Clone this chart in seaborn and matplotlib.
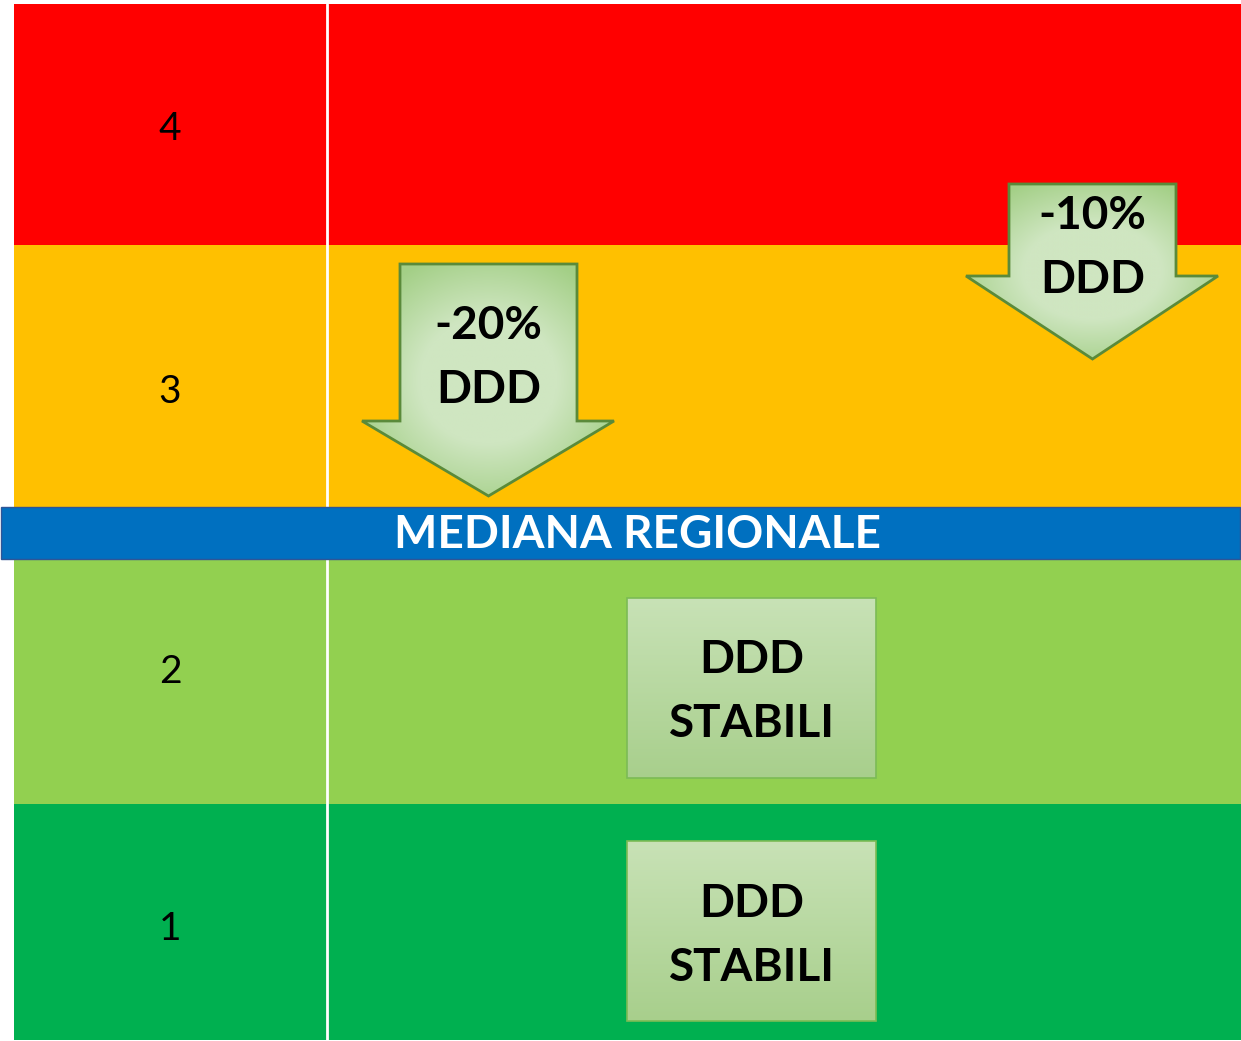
import numpy as np
import matplotlib
matplotlib.use("Agg")
import matplotlib.pyplot as plt
from matplotlib.patches import Polygon, Rectangle
from matplotlib.colors import to_rgb
import seaborn as sns

# ---- data ----
row_labels = ["4", "3", "2", "1"]
row_top = [4, 245, 559, 804]
row_bottom = [245, 507, 804, 1040]
row_colors = ["#ff0000", "#ffc000", "#92d050", "#00b050"]

band_text = "MEDIANA REGIONALE"
band_top, band_bottom = 507, 559

arrow_texts = ["-20%\nDDD", "-10%\nDDD"]
# shaft left, shaft right, top, shoulder y, head left, head right, tip y
arrow_geo = [
    (400, 577, 264, 421, 362, 614, 496),
    (1009, 1176, 184, 276, 966, 1218, 359),
]
arrow_text_y = [358, 248]
box_texts = ["DDD\nSTABILI", "DDD\nSTABILI"]
box_geo = [(627, 876, 598, 778), (627, 876, 841, 1021)]
box_text_y = [692, 936]

sns.set_theme(style="white")
plt.rcParams['font.family'] = ['Lato', 'DejaVu Sans']

W, H = 1241, 1041
fig = plt.figure(figsize=(W / 100, H / 100), dpi=100)
ax = fig.add_axes([0, 0, 1, 1])
ax.set_xlim(0, W)
ax.set_ylim(H, 0)
ax.axis('off')

# rows
heights = [b - t for t, b in zip(row_top, row_bottom)]
centers = [(t + b) / 2 for t, b in zip(row_top, row_bottom)]
ax.barh(centers, W - 14, left=14, height=heights, color=row_colors,
        edgecolor='none', zorder=1)
# column divider
ax.plot([327, 327], [row_top[0], row_bottom[-1]], color='white', lw=2, zorder=2)
# row labels
label_y = [129, 392, 672, 929]
for lab, y in zip(row_labels, label_y):
    ax.text(170, y, lab, ha='center', va='center', fontsize=28, color='black', zorder=3)

# blue band
ax.add_patch(Rectangle((1, band_top), W - 2, band_bottom - band_top,
                       facecolor='#0070c0', edgecolor='#2f5597', lw=1, zorder=4))
ax.text(638, (band_top + band_bottom) / 2 + 2, band_text, ha='center', va='center',
        fontsize=33, fontweight='bold', color='white', zorder=5)

light = np.array(to_rgb('#cfe6c1'))
dark = np.array(to_rgb('#a3cf86'))

# arrows with radial gradient
for (sl, sr, top, sh, hl, hr, tip), txt, ty in zip(arrow_geo, arrow_texts, arrow_text_y):
    cx = (sl + sr) / 2
    verts = [(sl, top), (sr, top), (sr, sh), (hr, sh), (cx, tip), (hl, sh), (sl, sh)]
    poly = Polygon(verts, closed=True, facecolor='none', edgecolor='#5a8a3a', lw=2, zorder=7)
    ax.add_patch(poly)
    xs = np.linspace(hl, hr, 200)
    ys = np.linspace(top, tip, 200)
    X, Y = np.meshgrid(xs, ys)
    cy = (top + tip) / 2
    r = np.sqrt(((X - cx) / ((hr - hl) / 2)) ** 2 + ((Y - cy) / ((tip - top) / 2)) ** 2)
    t = np.clip((r - 0.55) / 0.6, 0, 1)[..., None]
    img = light * (1 - t) + dark * t
    im = ax.imshow(img, extent=(hl, hr, tip, top), zorder=6, interpolation='bilinear')
    clip = Polygon(verts, closed=True, transform=ax.transData)
    im.set_clip_path(clip)
    ax.text(cx, ty, txt, ha='center', va='center', fontsize=33,
            fontweight='bold', color='black', linespacing=1.63, zorder=8)

# boxes with vertical gradient
for (x0, x1, y0, y1), txt, ty in zip(box_geo, box_texts, box_text_y):
    ys = np.linspace(0, 1, 100)[:, None, None]
    img = np.repeat(np.array(to_rgb('#c8e2b6')) * (1 - ys) + np.array(to_rgb('#a8cf8c')) * ys, 2, axis=1)
    ax.imshow(img, extent=(x0, x1, y1, y0), zorder=6, interpolation='bilinear', aspect='auto')
    ax.add_patch(Rectangle((x0, y0), x1 - x0, y1 - y0, facecolor='none',
                           edgecolor='#7cbb55', lw=1.2, zorder=7))
    ax.text((x0 + x1) / 2, ty, txt, ha='center', va='center', fontsize=33,
            fontweight='bold', color='black', linespacing=1.63, zorder=8)

ax.set_xlim(0, W)
ax.set_ylim(H, 0)
fig.savefig('out.png', dpi=100)
